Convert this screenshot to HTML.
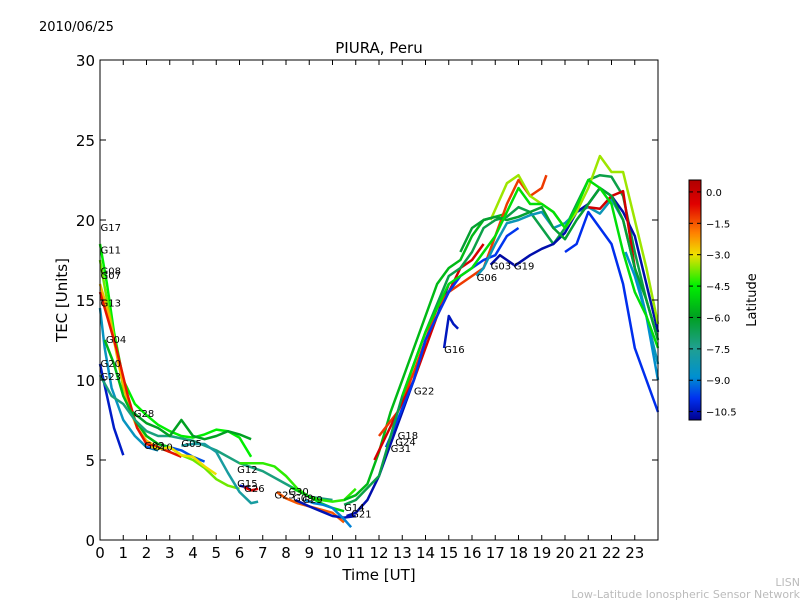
<!DOCTYPE html>
<html><head><meta charset="utf-8"><style>
body{margin:0;background:#fff;}
svg text{font-family:"DejaVu Sans","Liberation Sans",sans-serif;}
</style></head><body>
<svg id="chart" width="800" height="600" viewBox="0 0 800 600" xmlns="http://www.w3.org/2000/svg">
<rect width="800" height="600" fill="#fff"/>
<text x="39" y="31" font-size="13">2010/06/25</text>
<text x="379" y="53" font-size="15" text-anchor="middle">PIURA, Peru</text>
<g id="series"></g>
<g id="labels"></g>
<rect x="100" y="60" width="558" height="480" fill="none" stroke="#000" stroke-width="1"/>
<g id="axes"></g>
<text x="379" y="580" font-size="15" text-anchor="middle">Time [UT]</text>
<text transform="translate(67,300) rotate(-90)" font-size="15" text-anchor="middle">TEC [Units]</text>
<defs><linearGradient id="cbg" x1="0" y1="0" x2="0" y2="1">
<stop offset="0" stop-color="#b00000"/><stop offset="0.1" stop-color="#e00000"/><stop offset="0.22" stop-color="#ff8000"/><stop offset="0.31" stop-color="#f0e000"/><stop offset="0.44" stop-color="#00f000"/><stop offset="0.57" stop-color="#00a020"/><stop offset="0.7" stop-color="#20a090"/><stop offset="0.82" stop-color="#0090d0"/><stop offset="0.91" stop-color="#0030f0"/><stop offset="1" stop-color="#000090"/>
</linearGradient></defs>
<g>
<rect x="689" y="180" width="12" height="240" fill="url(#cbg)" stroke="#000"/>
</g>
<g id="cbticks"></g>
<text transform="translate(756,300) rotate(-90)" font-size="13" text-anchor="middle">Latitude</text>
<text x="800" y="586" font-size="11" fill="#bbb" text-anchor="end">LISN</text>
<text x="800" y="598" font-size="11" fill="#bbb" text-anchor="end">Low-Latitude Ionospheric Sensor Network</text>
</svg>
<script>
const xTicks=[0,1,2,3,4,5,6,7,8,9,10,11,12,13,14,15,16,17,18,19,20,21,22,23];
const yTicks=[0,5,10,15,20,25,30];
const cbTicks=[0.0,-1.5,-3.0,-4.5,-6.0,-7.5,-9.0,-10.5];
const names=["G17","G11","G08","G07","G13","G04","G20","G23","G28","G02","G10","G05","G12","G15","G26","G25","G30","G09","G29","G14","G21","G18","G24","G31","G22","G16","G06","G03","G19","E01","E02","E03","E04","E05","E06"];
const lats=[-4.5,-3.8,-2.5,-0.8,-8.5,-5.5,-10.3,-7.2,-6,-9.5,-3,-7.8,-4.2,-10.5,-0.5,-1.5,-5,-10.5,-9,-5.5,-10.6,-1.2,-0.3,-9.8,-6.5,-10.4,-8.3,-10.7,-10.6,-3.5,-9.9,-0.2,-8.8,-6.2,-4.8];
const times=[
[0,0.3,0.6,1,1.5,2,2.5,3,3.5,4,4.5,5,5.5,6,6.5],
[0,0.3,0.7,1,1.5,2,2.5,3,3.5,4,4.5,5,5.5,6],
[0,0.4,0.8,1.2,1.6,2,2.5,3],
[0,0.3,0.7,1.2,1.6,2,2.5,3,3.5],
[0,0.2,0.5,1,1.5,2,2.5],
[0.2,0.6,1,1.5,2,2.5,3],
[0,0.3,0.6,1],
[0,0.5,1,1.5,2,2.5,3,4,5,6,7,8,9,10],
[1.4,2,2.5,3,3.5,4,4.5,5,5.5,6,6.5],
[2,2.5,3,3.5,4,4.5],
[2.2,2.6,3,3.5,4,4.5,5],
[3.5,4,4.5,5,5.5,6,6.5,6.8],
[6,6.5,7,7.5,8,8.5,9,9.5,10,10.5,11],
[6,6.3,6.5],
[6.2,6.5,6.8],
[7.6,8,8.5,9,9.5,10,10.5],
[8.2,8.6,9,9.5,10,10.5],
[8.4,9,9.5,10,10.5,11],
[8.8,9.2,9.6,10,10.5,10.8],
[10.5,11,11.5,12,12.5,13,13.5,14,14.5,15,15.5,16,16.5,17,17.5],
[10.6,11,11.5,12,12.5,13,13.5,14,14.5,15],
[12,12.8,13.5,14,14.5,15,15.5,16,16.5,17,17.5,18,18.5,19,19.2],
[11.8,12.3,12.8,13.5,14,14.5,15,15.5,16,16.5],
[12.3,12.8,13.5,14,14.5,15,15.5,16,16.5,17,17.5,18],
[10.5,11,12,13,14,15,15.5,16,16.5,17,17.5,18,18.5,19,19.5,20,20.5,21,21.5,22,22.5,23,23.5,24],
[14.8,15,15.2,15.4],
[16.2,16.5,17,17.5,18,18.5,19,19.5,20,20.5,21,21.5,22,22.5,23,23.5,24],
[16.8,17,17.2,17.5,17.8],
[17.8,18,18.5,19,19.5,20,20.5,21,21.5,22,22.5,23,23.5,24],
[16.8,17.5,18,18.5,19,19.5,20,20.5,21,21.5,22,22.5,23,23.5,24],
[20,20.5,21,21.5,22,22.5,23,23.5,24],
[21,21.5,22,22.5,23],
[22.6,23,23.5,24],
[15.5,16,16.5,17,17.5,18,18.5,19,19.5,20,20.5,21,21.5,22,22.5,23,23.5,24],
[13,14,15,16,17,17.5,18,18.5,19,19.5,20,20.5,21,21.5,22,22.5,23,23.5,24]
];
const tecs=[
[18.5,16,13,10,8.5,7.8,7.2,6.8,6.5,6.4,6.6,6.9,6.8,6.4,5.2],
[17.5,15,12,9.5,7.5,6.5,6,5.8,5.3,5,4.5,3.8,3.4,3.2],
[16,14,11,8.5,7,6.2,5.8,5.5],
[15.5,14,12,9,7,6,5.8,5.5,5.2],
[14.5,12,9.5,7.5,6.5,5.8,5.6],
[12.5,11,9,7.5,6.5,6,5.8],
[11,9,7,5.3],
[10.3,9,8.5,7.5,6.8,6.5,6.5,6.2,5.6,4.8,4.3,3.5,2.7,2.5],
[8,7.3,7,6.5,7.5,6.5,6.3,6.5,6.8,6.6,6.3],
[5.8,5.7,5.8,5.6,5.2,4.9],
[5.8,5.7,5.8,5.3,5.2,4.6,4.1],
[5.9,6,6,5.5,4.2,3,2.3,2.4],
[4.8,4.8,4.8,4.6,4,3.2,2.7,2.5,2.4,2.5,3.2],
[3.4,3.3,3.1],
[3.3,3.1,3.2],
[3,2.6,2.3,2.1,1.9,1.7,1.1],
[3.3,3,2.7,2.3,2,1.8],
[2.5,2.1,1.8,1.5,1.4,1.5],
[2.5,2.3,2.2,2,1.3,0.8],
[2.5,2.8,3.5,5.5,8,10,12,14,16,17,17.5,19,20,20.2,20.4],
[1.5,1.7,2.5,4,6,8,10,12.5,14,16],
[6.5,8,10.5,12.5,14.5,15.5,16,16.5,17,19,21,22.5,21.5,22,22.8],
[5,6.5,8,10,12,14,15.5,17,17.5,18.5],
[5.8,7.5,10,12.5,14,15.5,16.5,17,17.5,17.8,19,19.5],
[2.2,2.5,4,9,13,16.5,17,18,19.5,20,20.2,20.8,20.5,19.5,18.5,19.5,21,22.5,22.8,22.7,21.5,18,15,12.5],
[12,14,13.5,13.2],
[16.5,17,18.5,19.8,20,20.3,20.5,19.5,19.8,20.5,20.8,20.4,21.3,20,17,14,11],
[17.2,17.5,17.8,17.5,17.2],
[17.1,17.3,17.8,18.2,18.5,19.2,20.5,21,22,21.5,20.5,19,16,13],
[20,22.3,22.8,21.5,21,20.5,19.5,20.5,22,24,23,23,20,17,13.5],
[18,18.5,20.5,19.5,18.5,16,12,10,8],
[20.8,20.7,21.5,21.8,17],
[18,16.5,14,10],
[18,19.5,20,20.2,20,20.2,20.5,20.8,19.5,18.8,20,21,22,21.5,20,17,15,12.5],
[9,13,16,17,19,20.5,22,21,21,20.5,19.5,20.8,22.5,22,21,18,15.5,14,12]
];
const labelIdx={G17:[0.02,19.3],G11:[0.02,17.9],G08:[0.02,16.6],G07:[0.02,16.3],G13:[0.02,14.6],G04:[0.25,12.3],G20:[0.02,10.8],G23:[0.02,10],G28:[1.45,7.7],G02:[1.9,5.7],G10:[2.25,5.6],G05:[3.5,5.8],G12:[5.9,4.2],G15:[5.9,3.3],G26:[6.2,3],G25:[7.5,2.6],G30:[8.1,2.8],G09:[8.3,2.4],G29:[8.7,2.3],G14:[10.5,1.8],G21:[10.8,1.4],G18:[12.8,6.3],G24:[12.7,5.9],G31:[12.5,5.5],G22:[13.5,9.1],G16:[14.8,11.7],G06:[16.2,16.2],G03:[16.8,16.9],G19:[17.8,16.9]};
const X=t=>100+t*558/24, Y=v=>540-v*16;
const cmap=[[0,176,0,0],[0.1,224,0,0],[0.22,255,128,0],[0.31,240,224,0],[0.44,0,240,0],[0.57,0,160,32],[0.7,32,160,144],[0.82,0,144,208],[0.91,0,48,240],[1,0,0,144]];
function jet(v){let f=(0.57-v)/11.47;f=Math.max(0,Math.min(1,f));
 for(let i=1;i<cmap.length;i++){if(f<=cmap[i][0]){const a=cmap[i-1],b=cmap[i],k=(f-a[0])/(b[0]-a[0]);
  return `rgb(${Math.round(a[1]+k*(b[1]-a[1]))},${Math.round(a[2]+k*(b[2]-a[2]))},${Math.round(a[3]+k*(b[3]-a[3]))})`;}}
 return 'rgb(0,0,144)';}
const ns="http://www.w3.org/2000/svg";
const sg=document.getElementById('series');
names.forEach((n,i)=>{
 const p=document.createElementNS(ns,'polyline');
 p.setAttribute('points',times[i].map((t,j)=>X(t).toFixed(1)+','+Y(tecs[i][j]).toFixed(1)).join(' '));
 p.setAttribute('fill','none');p.setAttribute('stroke',jet(lats[i]));p.setAttribute('stroke-width','2.5');
 p.setAttribute('stroke-linejoin','round');
 
 
 sg.appendChild(p);
});
const lg=document.getElementById('labels');
Object.keys(labelIdx).forEach(n=>{
 const t=document.createElementNS(ns,'text');
 t.setAttribute('x',X(labelIdx[n][0]));t.setAttribute('y',Y(labelIdx[n][1]));t.setAttribute('font-size','10');
 t.textContent=n;
 
 
 lg.appendChild(t);
});
const ag=document.getElementById('axes');
function ln(x1,y1,x2,y2,g){const l=document.createElementNS(ns,'line');l.setAttribute('x1',x1);l.setAttribute('y1',y1);l.setAttribute('x2',x2);l.setAttribute('y2',y2);l.setAttribute('stroke','#000');g.appendChild(l);}
xTicks.forEach(v=>{
 ln(X(v),540,X(v),535,ag);ln(X(v),60,X(v),65,ag);
 const t=document.createElementNS(ns,'text');t.setAttribute('x',X(v));t.setAttribute('y',558);t.setAttribute('font-size','15');t.setAttribute('text-anchor','middle');t.textContent=v;
 
 
 ag.appendChild(t);
});
yTicks.forEach(v=>{
 ln(100,Y(v),106,Y(v),ag);ln(658,Y(v),652,Y(v),ag);
 const t=document.createElementNS(ns,'text');t.setAttribute('x',95);t.setAttribute('y',Y(v)+6);t.setAttribute('font-size','15');t.setAttribute('text-anchor','end');t.textContent=v;
 
 
 ag.appendChild(t);
});
const cg=document.getElementById('cbticks');
cbTicks.forEach(v=>{
 const y=180+(0.57-v)*240/11.47;
 ln(689,y,693,y,cg);ln(701,y,697,y,cg);
 const t=document.createElementNS(ns,'text');t.setAttribute('x',706);t.setAttribute('y',y+4);t.setAttribute('font-size','10');t.textContent=v.toFixed(1).replace('-','\u2212');
 
 
 cg.appendChild(t);
});
</script>
</body></html>
